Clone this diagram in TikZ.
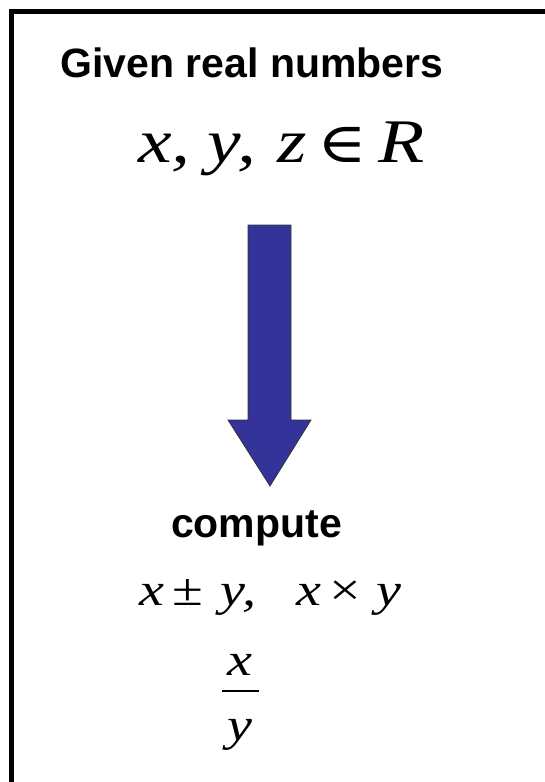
\documentclass[tikz,border=0pt]{standalone}
\usepackage{fontspec}
\setmainfont{Liberation Serif}
\newfontfamily\headfont{Liberation Sans}
\newfontfamily\mathitfont[FakeStretch=1.22]{Liberation Serif}
\newfontfamily\symfont[FakeStretch=1.2]{DejaVu Serif}
\definecolor{arrowblue}{HTML}{333399}

\begin{document}
\begin{tikzpicture}[x=1pt,y=-1pt,
heading/.style={font=\headfont\bfseries\fontsize{41}{49}\selectfont, anchor=base, inner sep=0pt},
bigmath/.style={font=\mathitfont\itshape\fontsize{62}{70}\selectfont, anchor=base west, inner sep=0pt},
smallmath/.style={font=\mathitfont\itshape\fontsize{46}{52}\selectfont, anchor=base west, inner sep=0pt},
blockarrow/.style={draw=black!80, line width=0.8pt, fill=arrowblue, line join=miter}
]
\useasboundingbox (0,0) rectangle (545,782);
\clip (0,0) rectangle (545,782);
% frame, only its top and left edges are in view
\draw[line width=5.5pt] (11.5,800) |- (560,11.5);

\node[heading] (given) at (252,77) {Given real numbers};
\node[bigmath] (vars) at (138,162)
  {x,\hspace{17pt}y,\hspace{22pt}z\hspace{10pt}{\upshape\symfont\fontsize{56}{60}\selectfont ∈}\hspace{11pt}R};

% block arrow
\draw[blockarrow] (248,225) -- (291,225) -- (291,420) -- (311,420) -- (270,486)
  -- (228,420) -- (248,420) -- cycle;

\node[heading] (compute) at (256.5,537) {compute};
\node[smallmath] (ops) at (139,605)
  {x\hspace{8pt}{\upshape ±}\hspace{18pt}y,\hspace{40pt}x\hspace{8pt}{\upshape ×}\hspace{15pt}y};

% fraction x over y
\node[smallmath, anchor=base] (num) at (240,675) {x};
\node[smallmath, anchor=base] (den) at (240,740) {y};
\coordinate (barl) at (222,691);
\coordinate (barr) at (259,691);
\draw[line width=1.8pt] (barl) -- (barr);
\end{tikzpicture}
\end{document}
